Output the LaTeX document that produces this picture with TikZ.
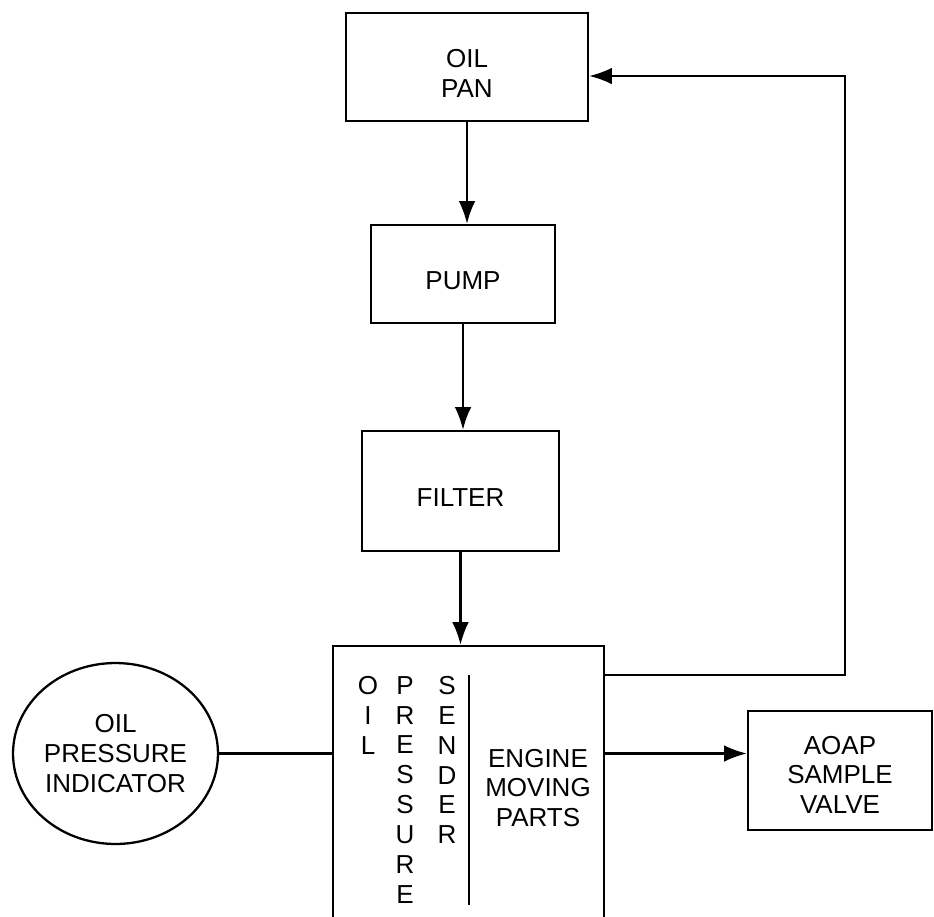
\documentclass[tikz,border=0pt]{standalone}
\usepackage{fontspec}
\setmainfont{Liberation Sans}
\usepackage{xcolor}
\usepackage{tikz}
\usetikzlibrary{shapes,arrows.meta,positioning}

\tikzset{
    >={Latex[length=13pt,width=9.5pt]},
    block/.style={draw, line width=1.3pt, rectangle, align=center, inner sep=0pt},
    flow/.style={->, line width=1.3pt},
    letters/.style={anchor=north, align=center, inner sep=0pt},
    textdown/.style={text height=#1, text depth=0pt},
}

\begin{document}
\begin{tikzpicture}[
        x=0.02cm,
        y=-0.02cm,
        font=\fontsize{14.8pt}{17pt}\selectfont
    ]
                \useasboundingbox (0,0) rectangle (934,917);
                \clip (0,0) rectangle (934,917);

                % oil path, top to bottom
                \node[
                    block,
                    textdown=1.21cm,
                    minimum width=4.84cm,
                    minimum height=2.16cm
                    ] (pan) at (467,67) {OIL\\PAN};

                \node[
                    block,
                    textdown=0.61cm,
                    minimum width=3.68cm,
                    minimum height=1.96cm
                    ] (pump) at (463,274) {PUMP};

                \node[
                    block,
                    textdown=0.61cm,
                    minimum width=3.94cm,
                    minimum height=2.4cm
                    ] (filter) at (460.5,491) {FILTER};

                \node[
                    block,
                    minimum width=5.42cm,
                    minimum height=5.88cm
                    ] (engine) at (468.5,793) {};

                \node[
                    block,
                    textdown=1.73cm,
                    minimum width=3.68cm,
                    minimum height=2.38cm
                    ] (valve) at (840,770.5) {AOAP\\SAMPLE\\VALVE};

                \node[
                    draw,
                    ellipse,
                    line width=1.3pt,
                    align=center,
                    inner sep=0pt,
                    minimum width=4.1cm,
                    minimum height=3.62cm
                    ] (indicator) at (115.5,753.5) {OIL\\PRESSURE\\INDICATOR};

                % inside the engine block
                \node[letters] (oilcol) at (368,676) {O\\I\\L};
                \node[letters] (presscol) at (405,676) {P\\R\\E\\S\\S\\U\\R\\E};
                \node[letters] (sendcol) at (447,676) {S\\E\\N\\D\\E\\R};
                \draw[line width=1.3pt] (469,675) -- (469,905);
                \node[align=center, inner sep=0pt] (parts) at (538,788) {ENGINE\\MOVING\\PARTS};

                \coordinate (turnlow) at (845,675);
                \coordinate (turnhigh) at (845,76);

                \draw[flow] (pan) -- (pan |- pump.north);
                \draw[flow] (pump) -- (pump |- filter.north);
                \draw[flow] (filter) -- (filter |- engine.north);

                \draw[
                    line width=1.3pt
                ] (indicator.east) -- (indicator.east -| engine.west);

                \draw[flow] (indicator.east -| engine.east) -- (indicator.east -| valve.west);

                \draw[
                    flow
                ] (engine.east |- turnlow) -- (turnlow) -- (turnhigh) -- (pan.east |- turnhigh);

\end{tikzpicture}
\end{document}
